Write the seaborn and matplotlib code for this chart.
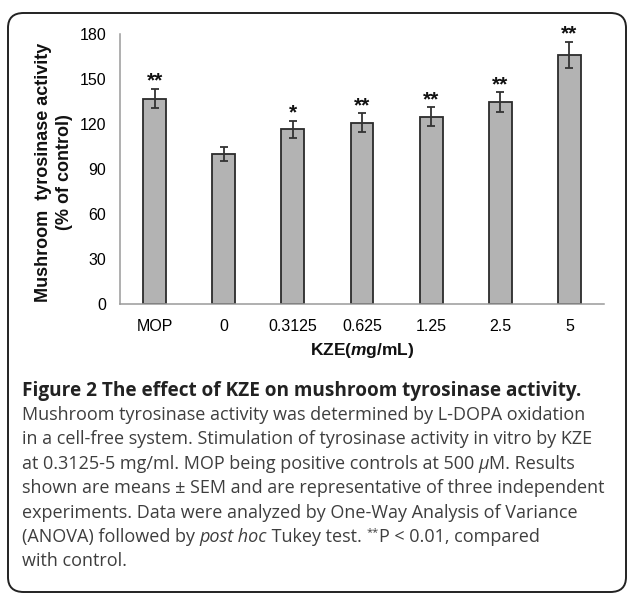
import matplotlib
matplotlib.use('Agg')
import matplotlib.pyplot as plt
import seaborn as sns
import pandas as pd
from matplotlib.patches import FancyBboxPatch

categories = ['MOP', '0', '0.3125', '0.625', '1.25', '2.5', '5']
activity = [137.0, 100.0, 116.5, 121.0, 125.0, 134.8, 166.0]
sem = [6.5, 4.9, 5.8, 6.2, 6.3, 6.6, 8.9]
stars = ['**', '', '*', '**', '**', '**', '**']
yticks = [0, 30, 60, 90, 120, 150, 180]

caption_title = 'Figure 2 The effect of KZE on mushroom tyrosinase activity.'
caption_lines = [
    [('Mushroom tyrosinase activity was determined by L-DOPA oxidation', 'normal')],
    [('in a cell-free system. Stimulation of tyrosinase activity in vitro by KZE', 'normal')],
    [('at 0.3125-5 mg/ml. MOP being positive controls at 500 ', 'normal'), ('\u00b5', 'italic'), ('M. Results', 'normal')],
    [('shown are means \u00b1 SEM and are representative of three independent', 'normal')],
    [('experiments. Data were analyzed by One-Way Analysis of Variance', 'normal')],
    [('(ANOVA) followed by ', 'normal'), ('post hoc', 'italic'), (' Tukey test. ', 'normal'), ('**', 'sup'), ('P < 0.01, compared', 'normal')],
    [('with control.', 'normal')],
]

W, H = 627, 594
sns.set_style('white')
plt.rcParams['font.family'] = ['Liberation Sans', 'DejaVu Sans']
plt.rcParams['mathtext.fontset'] = 'custom'
plt.rcParams['mathtext.rm'] = 'Liberation Sans:bold'
plt.rcParams['mathtext.it'] = 'Liberation Sans:italic:bold'

fig = plt.figure(figsize=(W / 100, H / 100), dpi=100)

def fx(px):
    return px / W

def fy(py):
    return 1 - py / H

# outer rounded frame
frame = FancyBboxPatch((fx(8), fy(592)), fx(618), fy(13) - fy(592),
                       boxstyle='round,pad=0,rounding_size=0.025',
                       transform=fig.transFigure, fill=False,
                       edgecolor='#222222', linewidth=1.4)
fig.patches.append(frame)

ax = fig.add_axes([fx(120), fy(304), fx(604) - fx(120), fy(34) - fy(304)])
df = pd.DataFrame({'dose': categories, 'activity': activity})
sns.barplot(data=df, x='dose', y='activity', color='#b3b3b3', width=0.33,
            edgecolor='#2b2b2b', linewidth=1.3, saturation=1, errorbar=None, ax=ax)
xpos = list(range(len(categories)))
ax.errorbar(xpos, activity, yerr=sem, fmt='none', ecolor='#333333',
            elinewidth=1.3, capsize=2.8, capthick=1.3)
for x, v, e, s in zip(xpos, activity, sem, stars):
    if s:
        ax.text(x, v + e + 1.3, s, ha='center', va='baseline',
                fontsize=15, fontweight='bold', color='#111111')

ax.set_xlim(-0.5, len(categories) - 0.5)
ax.set_ylim(0, 180)
ax.set_yticks(yticks)
ax.set_yticklabels([str(t) for t in yticks], fontsize=11.5, color='#000000')
ax.set_xticks([i + 0.5 for i in range(-1, len(categories))])
ax.set_xticklabels([])
ax.set_xticks(xpos, minor=True)
ax.set_xticklabels(categories, minor=True, fontsize=11.5, color='#000000')
ax.tick_params(axis='x', which='major', direction='out', length=5, color='#9a9a9a', width=1)
ax.tick_params(axis='x', which='minor', length=0, pad=11)
ax.tick_params(axis='y', direction='out', length=5, color='#9a9a9a', width=1, pad=5)
sns.despine(ax=ax)
for sp in ['left', 'bottom']:
    ax.spines[sp].set_color('#9a9a9a')
    ax.spines[sp].set_linewidth(1.1)
ax.set_xlabel('')
ax.set_ylabel('')

fig.text(fx(362), fy(350), r'KZE($\mathit{m}$g/mL)', ha='center', va='center',
         fontsize=12.5, fontweight='bold', color='#111111')
fig.text(fx(54), fy(172), 'Mushroom  tyrosinase activity\n(% of control)',
         ha='center', va='center', rotation=90, fontsize=13,
         fontweight='bold', color='#111111', linespacing=1.3)

# caption
cap_font = ['Open Sans', 'DejaVu Sans']
fig.text(fx(22), fy(396), caption_title, ha='left', va='baseline',
         fontsize=13.7, fontweight='bold', family=cap_font, color='#222222')
fig.canvas.draw()
renderer = fig.canvas.get_renderer()
baseline0 = 420
step = 24.4
for i, runs in enumerate(caption_lines):
    y = fy(baseline0 + i * step)
    xcur = fx(22)
    for txt, style in runs:
        kw = dict(ha='left', va='baseline', family=cap_font, color='#3e3e3e',
                  fontsize=13.0)
        yy = y
        if style == 'italic':
            kw['fontstyle'] = 'italic'
        elif style == 'sup':
            kw['fontsize'] = 8
            yy = y + 7 / H
        t = fig.text(xcur, yy, txt, **kw)
        bb = t.get_window_extent(renderer=renderer)
        xcur = xcur + bb.width / W

fig.savefig('out.png', dpi=100)
